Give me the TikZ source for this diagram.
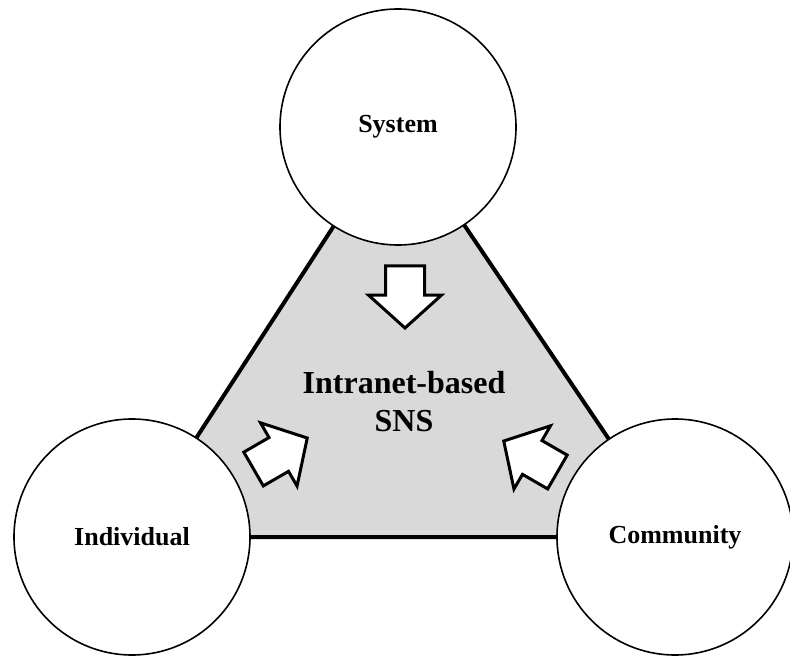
\documentclass[tikz,border=0pt]{standalone}
\usepackage{fontspec}
\setmainfont{Liberation Serif}
\usetikzlibrary{shapes.arrows}

\begin{document}
\begin{tikzpicture}[x=1pt,y=-1pt,
    sphere/.style={circle, draw, line width=1.6pt, fill=white, minimum size=236pt, inner sep=0pt, font=\fontsize{26}{30}\selectfont\bfseries},
    blockarrow/.style={single arrow, draw, line width=3pt, fill=white, minimum height=62pt, inner xsep=0pt, inner ysep=18pt, single arrow head extend=17pt, single arrow tip angle=96, anchor=tip}]
    \useasboundingbox (0,0) rectangle (790,658);

    % Corner Coordinates
    \coordinate (s) at (398,127);
    \coordinate (i) at (132,537);
    \coordinate (c) at (675,537);

    % Shaded Triangle
    \draw[line width=4pt, fill=gray!30] (s)--(i)--(c)--cycle;

    % Circles
    \node[sphere] (system) at (s) {System};
    \node[sphere] (individual) at (i) {Individual};
    \node[sphere] (community) at (c) {Community};

    % Centre Label
    \node[align=center, font=\fontsize{32}{38}\selectfont\bfseries] (sns) at (404,402) {Intranet-based\\SNS};

    % Block Arrows
    \foreach \name/\x/\y/\ang in {sysarrow/405/330/-90, indarrow/309/437/30, comarrow/502/440/150}
        \node[blockarrow, rotate=\ang] (\name) at (\x,\y) {};
\end{tikzpicture}
\end{document}
